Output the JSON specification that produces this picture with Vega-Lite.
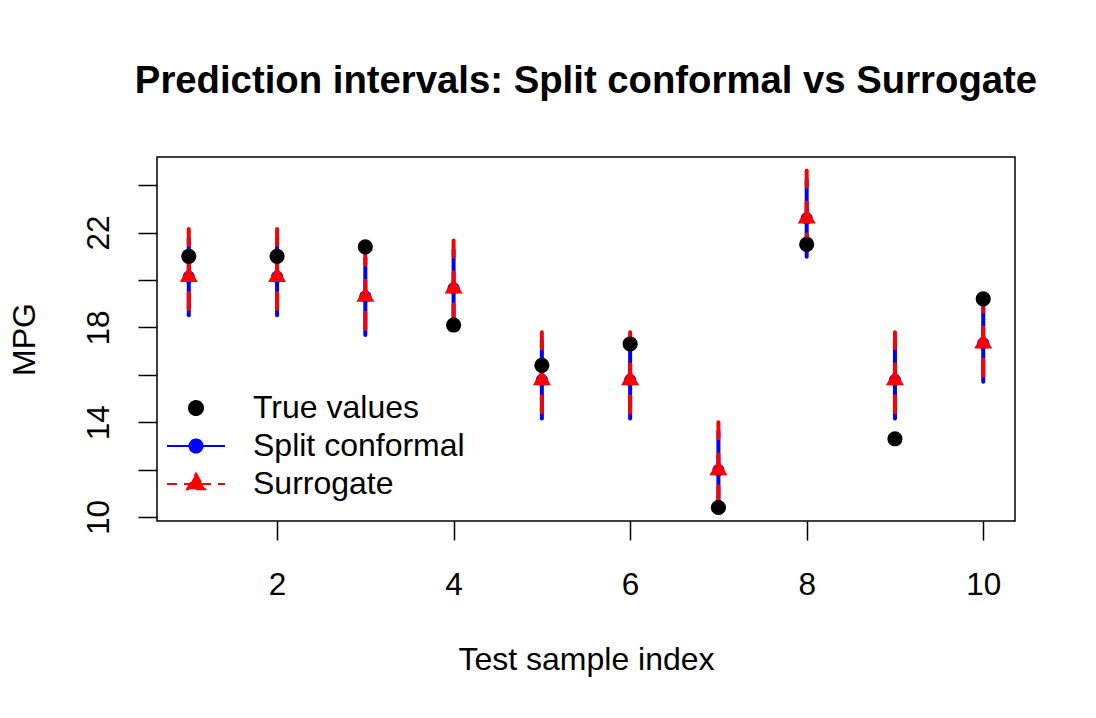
{
  "$schema": "https://vega.github.io/schema/vega-lite/v6.json",
  "width": 858,
  "height": 364,
  "autosize": "none",
  "padding": {"left": 157, "top": 157, "right": 81, "bottom": 197},
  "background": "white",
  "config": {
    "font": "Liberation Sans",
    "view": {"stroke": "black", "strokeWidth": 1.5},
    "axis": {
      "grid": false,
      "domain": false,
      "tickColor": "black",
      "tickWidth": 1.5,
      "tickSize": 19,
      "labelColor": "black",
      "labelFont": "Liberation Sans",
      "labelFontSize": 31.5,
      "titleFont": "Liberation Sans",
      "titleFontSize": 32,
      "titleFontWeight": "normal",
      "titleColor": "black"
    },
    "legend": {
      "orient": "none",
      "legendX": 23,
      "legendY": 235,
      "padding": 0,
      "labelFont": "Liberation Sans",
      "labelFontSize": 32,
      "labelColor": "black",
      "labelLimit": 0,
      "labelOffset": 41,
      "rowPadding": 6,
      "symbolSize": 400,
      "symbolStrokeWidth": 2,
      "symbolOpacity": 1
    }
  },
  "title": {
    "text": "Prediction intervals: Split conformal vs Surrogate",
    "font": "Liberation Sans",
    "fontSize": 38.3,
    "fontWeight": "bold",
    "color": "black",
    "anchor": "middle",
    "frame": "group",
    "offset": 53
  },
  "datasets": {
    "intervals": [
      {"idx": 1, "truth": 21.0, "pred": 20.13, "split_lo": 18.51, "split_hi": 21.75, "sur_lo": 18.75, "sur_hi": 22.15},
      {"idx": 2, "truth": 21.0, "pred": 20.13, "split_lo": 18.51, "split_hi": 21.75, "sur_lo": 18.75, "sur_hi": 22.15},
      {"idx": 3, "truth": 21.4, "pred": 19.30, "split_lo": 17.68, "split_hi": 20.92, "sur_lo": 17.92, "sur_hi": 21.32},
      {"idx": 4, "truth": 18.1, "pred": 19.65, "split_lo": 18.03, "split_hi": 21.27, "sur_lo": 18.27, "sur_hi": 21.67},
      {"idx": 5, "truth": 16.4, "pred": 15.78, "split_lo": 14.16, "split_hi": 17.40, "sur_lo": 14.40, "sur_hi": 17.80},
      {"idx": 6, "truth": 17.3, "pred": 15.78, "split_lo": 14.16, "split_hi": 17.40, "sur_lo": 14.40, "sur_hi": 17.80},
      {"idx": 7, "truth": 10.4, "pred": 11.98, "split_lo": 10.36, "split_hi": 13.60, "sur_lo": 10.60, "sur_hi": 14.00},
      {"idx": 8, "truth": 21.5, "pred": 22.60, "split_lo": 20.98, "split_hi": 24.22, "sur_lo": 21.22, "sur_hi": 24.62},
      {"idx": 9, "truth": 13.3, "pred": 15.78, "split_lo": 14.16, "split_hi": 17.40, "sur_lo": 14.40, "sur_hi": 17.80},
      {"idx": 10, "truth": 19.2, "pred": 17.33, "split_lo": 15.71, "split_hi": 18.95, "sur_lo": 15.95, "sur_hi": 19.35}
    ],
    "keys": [
      {"series": "True values"},
      {"series": "Split conformal"},
      {"series": "Surrogate"}
    ]
  },
  "encoding": {
    "x": {
      "field": "idx",
      "type": "quantitative",
      "scale": {"domain": [0.64, 10.36], "nice": false, "zero": false},
      "axis": {"title": "Test sample index", "values": [2, 4, 6, 8, 10], "labelPadding": 29, "titlePadding": 44}
    }
  },
  "layer": [
    {
      "data": {"name": "intervals"},
      "mark": {"type": "rule", "color": "blue", "strokeWidth": 4, "strokeCap": "round"},
      "encoding": {
        "y": {
          "field": "split_hi",
          "type": "quantitative",
          "scale": {"domain": [9.83, 25.19], "nice": false, "zero": false},
          "axis": {
            "title": "MPG",
            "values": [10, 12, 14, 16, 18, 20, 22, 24],
            "labelExpr": "datum.value % 4 == 2 ? datum.label : ''",
            "labelAngle": -90,
            "labelAlign": "center",
            "labelBaseline": "bottom",
            "labelPadding": 23,
            "titlePadding": 42
          }
        },
        "y2": {"field": "split_lo"}
      }
    },
    {
      "data": {"name": "intervals"},
      "mark": {"type": "rule", "color": "red", "strokeWidth": 4, "strokeCap": "round", "strokeDash": [16, 16]},
      "encoding": {
        "y": {"field": "sur_hi", "type": "quantitative"},
        "y2": {"field": "sur_lo"}
      }
    },
    {
      "data": {"name": "intervals"},
      "mark": {"type": "point", "shape": "circle", "filled": true, "color": "blue", "opacity": 1, "size": 150},
      "encoding": {"y": {"field": "pred", "type": "quantitative"}}
    },
    {
      "data": {"name": "intervals"},
      "mark": {"type": "point", "shape": "M0,-1.155L1,0.577L-1,0.577Z", "filled": true, "color": "red", "opacity": 1, "size": 324},
      "encoding": {"y": {"field": "pred", "type": "quantitative"}}
    },
    {
      "data": {"name": "intervals"},
      "mark": {"type": "point", "shape": "circle", "filled": true, "color": "black", "opacity": 1, "size": 230},
      "encoding": {"y": {"field": "truth", "type": "quantitative"}}
    },
    {
      "data": {"name": "keys"},
      "mark": {"type": "point", "filled": true, "opacity": 0},
      "encoding": {
        "x": {"value": 0},
        "y": {"value": 0},
        "fill": {
          "field": "series",
          "type": "nominal",
          "scale": {"domain": ["True values", "Split conformal", "Surrogate"], "range": ["black", "blue", "red"]},
          "legend": {"title": null}
        },
        "stroke": {
          "field": "series",
          "type": "nominal",
          "scale": {"domain": ["True values", "Split conformal", "Surrogate"], "range": ["black", "blue", "red"]},
          "legend": {"title": null}
        },
        "shape": {
          "field": "series",
          "type": "nominal",
          "scale": {
            "domain": ["True values", "Split conformal", "Surrogate"],
            "range": [
              "M0.7,0A0.7,0.7,0,1,1,-0.7,0A0.7,0.7,0,1,1,0.7,0Z",
              "M-2.9,0H2.9M0.65,0A0.65,0.65,0,1,1,-0.65,0A0.65,0.65,0,1,1,0.65,0Z",
              "M-2.9,0H2.9M0,-1.04L0.9,0.52L-0.9,0.52Z"
            ]
          },
          "legend": {"title": null}
        },
        "strokeDash": {
          "field": "series",
          "type": "nominal",
          "scale": {"domain": ["True values", "Split conformal", "Surrogate"], "range": [[1, 0], [1, 0], [10, 7]]},
          "legend": {"title": null}
        }
      }
    }
  ]
}
